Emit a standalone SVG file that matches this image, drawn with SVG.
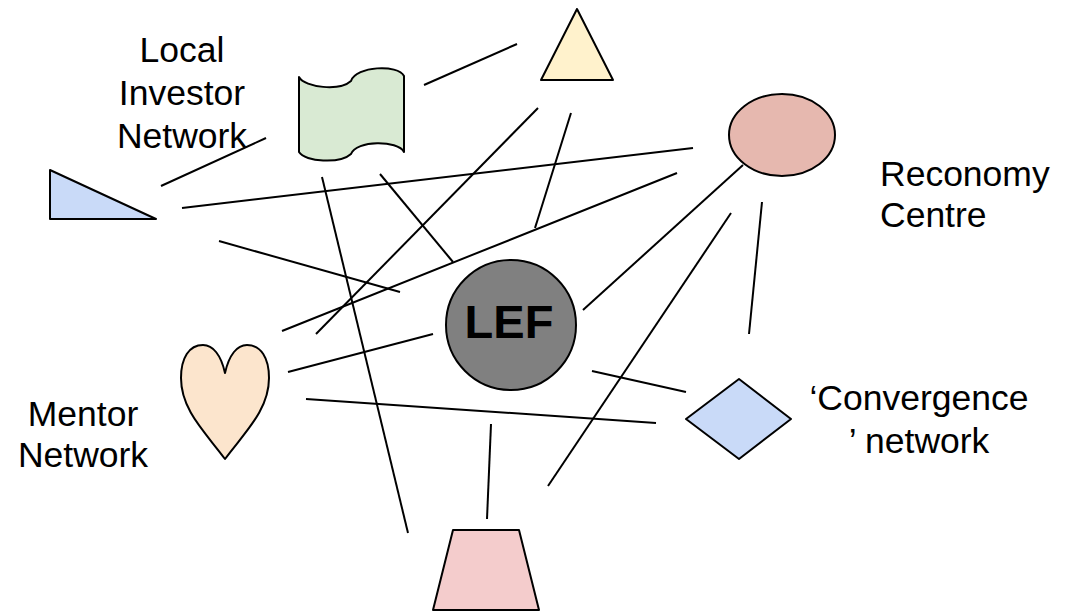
<svg xmlns="http://www.w3.org/2000/svg" width="1070" height="611" viewBox="0 0 1070 611">
<style>
.shape{stroke:#000;stroke-width:2;stroke-linejoin:round}
.conn line{stroke:#000;stroke-width:2;stroke-linecap:butt}
.lbl{font-family:"Liberation Sans",Arial,sans-serif;font-size:35.5px;fill:#000;text-anchor:middle}
.lbl.start{text-anchor:start}
.lef{font-family:"Liberation Sans",Arial,sans-serif;font-size:47px;font-weight:bold;fill:#000;text-anchor:middle}
</style>
<rect width="1070" height="611" fill="#fff"/>
<g id="connectors" class="conn">
<line x1="424" y1="85" x2="517" y2="44"/>
<line x1="538" y1="108" x2="316" y2="334"/>
<line x1="571" y1="113" x2="535" y2="228"/>
<line x1="322" y1="177" x2="408" y2="533"/>
<line x1="380" y1="174" x2="453" y2="262"/>
<line x1="161" y1="186" x2="266" y2="138"/>
<line x1="182" y1="208" x2="693" y2="148"/>
<line x1="219" y1="241" x2="400" y2="292"/>
<line x1="282" y1="331" x2="677" y2="173"/>
<line x1="288" y1="372" x2="433" y2="334"/>
<line x1="306" y1="399" x2="656" y2="423"/>
<line x1="743" y1="165" x2="583" y2="310"/>
<line x1="731" y1="213" x2="548" y2="486"/>
<line x1="762" y1="202" x2="749" y2="334"/>
<line x1="592" y1="371" x2="686" y2="392"/>
<line x1="491" y1="424" x2="487" y2="519"/>
</g>
<g id="local-investor-network">
<path class="shape" fill="#d9ead3" d="M299,77 C305,88 340,91 351,81 C356,66 398,64 404,76 L404,152 C398,140 356,140 351,154 C340,164 305,162 299,152 Z"/>
<text class="lbl" x="182" y="62">Local</text>
<text class="lbl" x="182" y="105">Investor</text>
<text class="lbl" x="182" y="148">Network</text>
</g>
<g id="triangle">
<polygon class="shape" fill="#fff2cc" points="577,9 541,80 613,80"/>
</g>
<g id="right-triangle">
<polygon class="shape" fill="#c9daf8" points="50,170 50,219 156,219"/>
</g>
<g id="reconomy-centre">
<ellipse class="shape" fill="#e6b8af" cx="782" cy="135" rx="53" ry="41"/>
<text class="lbl start" x="880" y="186">Reconomy</text>
<text class="lbl start" x="880" y="227">Centre</text>
</g>
<g id="lef">
<circle class="shape" fill="#808080" cx="511" cy="325" r="65"/>
<text class="lef" x="509" y="338">LEF</text>
</g>
<g id="mentor-network">
<path class="shape" fill="#fce5cd" d="M225,373 C221,355 213,345 203,345 C189,345 181,358 181,378 C181,410 205,432 225,459 C245,432 269,410 269,378 C269,358 261,345 247,345 C237,345 229,355 225,373 Z"/>
<text class="lbl" x="83" y="426">Mentor</text>
<text class="lbl" x="83" y="467">Network</text>
</g>
<g id="convergence-network">
<polygon class="shape" fill="#c9daf8" points="739,379 791,419 739,459 686,419"/>
<text class="lbl" x="919" y="410">‘Convergence</text>
<text class="lbl" x="919" y="453">’ network</text>
</g>
<g id="trapezoid">
<polygon class="shape" fill="#f4cccc" points="453,530 519,530 539,610 433,610"/>
</g>
</svg>
